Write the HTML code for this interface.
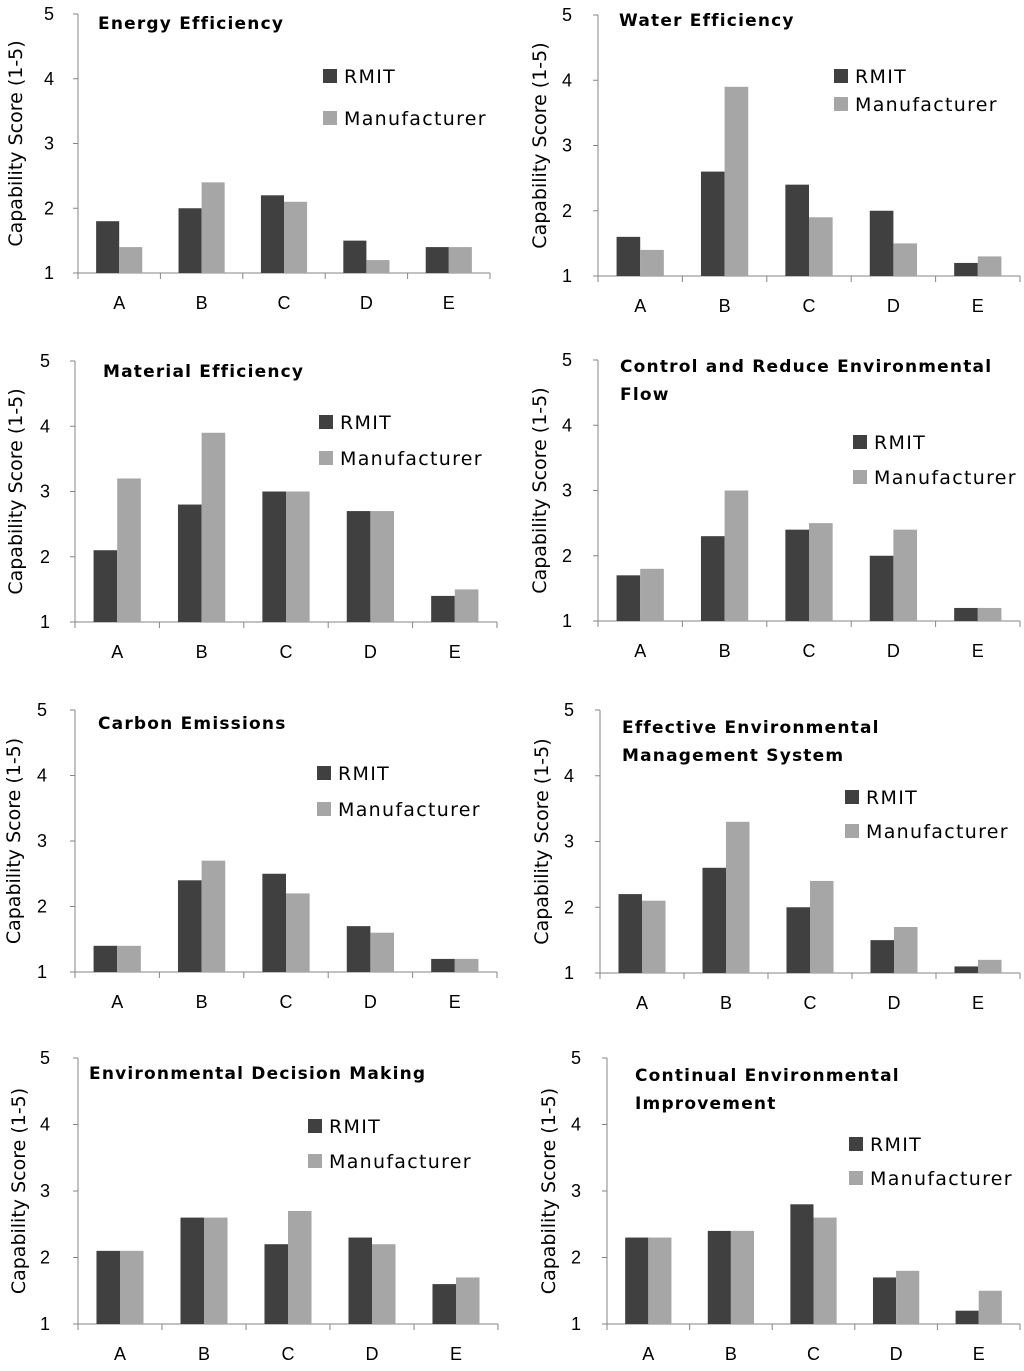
<!DOCTYPE html>
<html><head><meta charset="utf-8">
<style>
body{margin:0;background:#fff;}
svg{display:block;font-family:"Liberation Sans","DejaVu Sans",sans-serif;}
.t{font-family:"DejaVu Sans",sans-serif;font-weight:bold;font-size:17px;fill:#000;}
.k{font-size:18px;fill:#000;}
.lg{font-family:"DejaVu Sans",sans-serif;font-size:19px;fill:#000;}
.yl{font-family:"DejaVu Sans",sans-serif;font-size:19px;fill:#000;}
</style></head><body>
<svg id="c" width="1024" height="1371"></svg>
<script>
const categories=["A","B","C","D","E"];
const yTicks=[1,2,3,4,5];
const titles=[["Energy Efficiency"],["Water Efficiency"],["Material Efficiency"],["Control and Reduce Environmental","Flow"],["Carbon Emissions"],["Effective Environmental","Management System"],["Environmental Decision Making"],["Continual Environmental","Improvement"]];
const rmit1=[1.8,2.0,2.2,1.5,1.4], mfr1=[1.4,2.4,2.1,1.2,1.4];
const rmit2=[1.6,2.6,2.4,2.0,1.2], mfr2=[1.4,3.9,1.9,1.5,1.3];
const rmit3=[2.1,2.8,3.0,2.7,1.4], mfr3=[3.2,3.9,3.0,2.7,1.5];
const rmit4=[1.7,2.3,2.4,2.0,1.2], mfr4=[1.8,3.0,2.5,2.4,1.2];
const rmit5=[1.4,2.4,2.5,1.7,1.2], mfr5=[1.4,2.7,2.2,1.6,1.2];
const rmit6=[2.2,2.6,2.0,1.5,1.1], mfr6=[2.1,3.3,2.4,1.7,1.2];
const rmit7=[2.1,2.6,2.2,2.3,1.6], mfr7=[2.1,2.6,2.7,2.2,1.7];
const rmit8=[2.3,2.4,2.8,1.7,1.2], mfr8=[2.3,2.4,2.6,1.8,1.5];
const rmitAll=[rmit1,rmit2,rmit3,rmit4,rmit5,rmit6,rmit7,rmit8];
const mfrAll=[mfr1,mfr2,mfr3,mfr4,mfr5,mfr6,mfr7,mfr8];
// layout: axisX, xEnd, yTop(5), yBot(1), titleX, titleY, legendX, legendY1, legendY2, tickLabelX, ylabelX
const layout=[
[78,490,14,273,98,29,323,76,118,49,16],
[598,1020,15,276,619,26,834,76,104,567,540],
[75,497,361,622,103,377,319,422,458,45,16],
[598,1020,360,621,620,372,853,442,477,567,540],
[75,497,710,972,98,729,317,773,809,42,14],
[600,1020,710,973,622,733,845,797,831,569,542],
[78,498,1058,1324,89,1079,308,1126,1161,45,19],
[607,1020,1058,1324,635,1081,849,1144,1178,576,549]];
const NS="http://www.w3.org/2000/svg";const svg=document.getElementById("c");
function mk(t,a,p){const e=document.createElementNS(NS,t);for(const k in a)e.setAttribute(k,a[k]);(p||svg).appendChild(e);return e;}
layout.forEach((L,i)=>{
 const [ax,xe,yt,yb,tx,ty,lx,ly1,ly2,tkx,ylx]=L;
 const g=mk("g",{});
 
 
 const ys=v=>yb-(v-1)/4*(yb-yt);
 const bw=(xe-ax)/5;
 const xs=j=>ax+bw*(j+0.5);
 const barW=bw*0.28;
 mk("line",{x1:ax,y1:yt,x2:ax,y2:yb,stroke:"#868686","stroke-width":1},g);
 mk("line",{x1:ax,y1:yb,x2:xe,y2:yb,stroke:"#868686","stroke-width":1},g);
 yTicks.forEach(v=>{mk("line",{x1:ax-5,y1:ys(v),x2:ax,y2:ys(v),stroke:"#868686"},g);
  const t=mk("text",{x:tkx,y:ys(v)+6,"text-anchor":"middle",class:"k"},g);t.textContent=v;
  });
 for(let j=0;j<=5;j++)mk("line",{x1:ax+bw*j,y1:yb,x2:ax+bw*j,y2:yb+6,stroke:"#868686"},g);
 categories.forEach((c,j)=>{
  const r=mk("rect",{x:xs(j)-barW,y:ys(rmitAll[i][j]),width:barW,height:yb-ys(rmitAll[i][j]),fill:"#404040"},g);
  
  
  const m=mk("rect",{x:xs(j),y:ys(mfrAll[i][j]),width:barW,height:yb-ys(mfrAll[i][j]),fill:"#a6a6a6"},g);
  
  
  const t=mk("text",{x:xs(j),y:yb+36,"text-anchor":"middle",class:"k"},g);t.textContent=c;
  
 });
 titles[i].forEach((s,k)=>{const t=mk("text",{x:tx,y:ty+k*28,class:"t","letter-spacing":"1.2"},g);t.textContent=s;
  });
 const cy=(yt+yb)/2;
 const yl=mk("text",{x:ylx,y:cy,"text-anchor":"middle",class:"yl",transform:`rotate(-90 ${ylx} ${cy})`,dy:"6"},g);
 yl.textContent="Capability Score (1-5)";
 
 [[ly1,"#404040","RMIT"],[ly2,"#a6a6a6","Manufacturer"]].forEach(([y,col,lab])=>{
  const s=mk("rect",{x:lx,y:y-7,width:14,height:14,fill:col},g);
  
  const t=mk("text",{x:lx+21,y:y+7,class:"lg","letter-spacing":"1.3"},g);t.textContent=lab;
  
 });
});
</script>
</body></html>
